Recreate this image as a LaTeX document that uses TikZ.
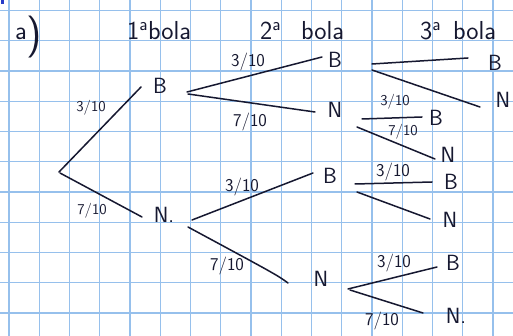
\documentclass[tikz,border=0pt]{standalone}
\usepackage{fontspec}
\usetikzlibrary{calc}
\definecolor{ink}{RGB}{22,24,48}
\definecolor{gridblue}{RGB}{150,192,236}
\definecolor{markblue}{RGB}{40,60,200}
\tikzset{
  pen/.style={draw=ink, line width=1.5pt, line cap=round},
  gridline/.style={draw=gridblue, line width=1.3pt},
  letter/.style={text=ink, font=\sffamily\fontsize{22}{22}\selectfont, inner sep=0pt},
  frac/.style={text=ink, font=\sffamily\fontsize{18}{18}\selectfont, inner sep=0pt},
  smallfrac/.style={text=ink, font=\sffamily\fontsize{15}{15}\selectfont, inner sep=0pt},
  head/.style={text=ink, font=\sffamily\fontsize{26}{26}\selectfont, inner sep=0pt, anchor=base west},
}
\begin{document}
\begin{tikzpicture}[x=1pt,y=-1pt]
\useasboundingbox (0,0) rectangle (513,336);
\fill[white] (0,0) rectangle (513,336);
% graph paper
\foreach \k in {0,...,16} \draw[gridline] ({9+30.25*\k},0) -- ({9+30.25*\k},336);
\foreach \k in {0,...,10} \draw[gridline] (0,{10.5+30.25*\k}) -- (513,{10.5+30.25*\k});
\fill[markblue] (1,0) rectangle (3.5,4);

% headings
\node[head] (ha) at (15,48) {\raisebox{8pt}{a}\fontsize{42}{42}\selectfont)};
\node[head] (h1) at (127,40) {1\textsuperscript{a}bola};
\node[head] (h2) at (260,40) {2\textsuperscript{a}\hspace{20pt}bola};
\node[head] (h3) at (420,40) {3\textsuperscript{a}\hspace{12pt}bola};

% tree nodes
\coordinate (root) at (59,172);
\node[letter] (b1) at (160,86) {B};
\node[letter] (n1) at (164,215) {N.};
\node[letter] (b2) at (335,60) {B};
\node[letter] (n2) at (335,110) {N};
\node[letter] (b2b) at (330,176) {B};
\node[letter] (n2b) at (321,279) {N};
\node[letter] (b3a) at (495,63) {B};
\node[letter] (n3a) at (503,100) {N};
\node[letter] (b3b) at (436,118) {B};
\node[letter] (n3b) at (448,155) {N};
\node[letter] (b3c) at (451,182) {B};
\node[letter] (n3c) at (450,220) {N};
\node[letter] (b3d) at (453,263) {B};
\node[letter] (n3d) at (456,316) {N.};

% branches
\draw[pen] (root) -- ($(b1)+(-19,1)$);
\draw[pen] ($(root)+(1,1)$) -- ($(n1)+(-22,2)$);
\draw[pen] ($(b1)+(27,6)$) -- ($(b2)+(-13,-3)$);
\draw[pen] ($(b1)+(28,8)$) -- ($(n2)+(-20,2)$);
\draw[pen] ($(b2)+(37,4)$) -- ($(b3a)+(-27,-5)$);
\draw[pen] ($(b2)+(37,10)$) -- ($(n3a)+(-23,7)$);
\draw[pen] ($(n2)+(27,9)$) -- ($(b3b)+(-14,-1)$);
\draw[pen] ($(n2)+(22,17)$) -- ($(n3b)+(-13,4)$);
\draw[pen] ($(n1)+(28,5)$) -- ($(b2b)+(-17,-3)$);
\draw[pen] ($(n1)+(24,12)$) .. controls ($(n2b)+(-44,-4)$) .. ($(n2b)+(-33,4)$);
\draw[pen] ($(b2b)+(25,8)$) -- ($(b3c)+(-19,0)$);
\draw[pen] ($(b2b)+(27,16)$) -- ($(n3c)+(-20,-1)$);
\draw[pen] ($(n2b)+(27,10)$) -- ($(b3d)+(-16,4)$);
\draw[pen] ($(n2b)+(29,11)$) -- ($(n3d)+(-33,-3)$);

% probabilities
\node[smallfrac] (l1) at (91,108) {3/10};
\node[smallfrac] (l2) at (92,211) {7/10};
\node[frac] (l3) at (248,62) {3/10};
\node[frac] (l4) at (250,122) {7/10};
\node[smallfrac] (l5) at (395,102) {3/10};
\node[smallfrac] (l6) at (403,132) {7/10};
\node[frac] (l7) at (242,187) {3/10};
\node[frac] (l8) at (227,266) {7/10};
\node[frac] (l9) at (393,172) {3/10};
\node[frac] (l10) at (394,263) {3/10};
\node[frac] (l11) at (382,321) {7/10};
\end{tikzpicture}
\end{document}
